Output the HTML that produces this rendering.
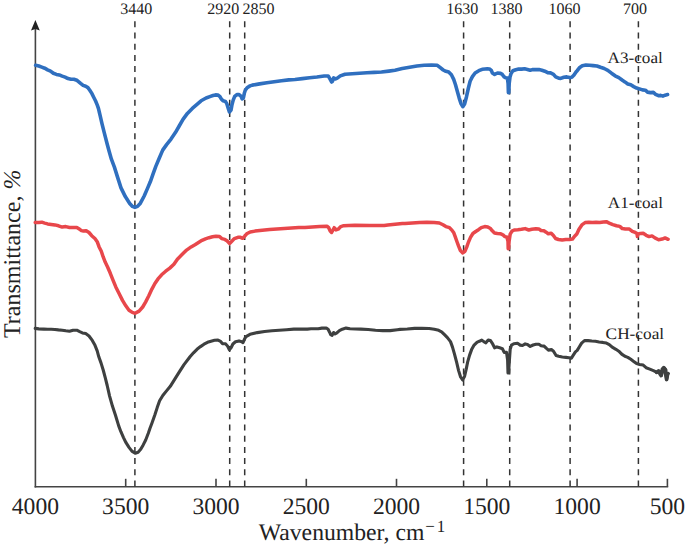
<!DOCTYPE html>
<html><head><meta charset="utf-8"><style>
html,body{margin:0;padding:0;background:#fff;width:685px;height:547px;overflow:hidden}
svg{display:block;font-family:"Liberation Serif",serif;text-rendering:geometricPrecision}
</style></head><body>
<svg width="685" height="547" viewBox="0 0 685 547">
<line x1="35.4" y1="28" x2="35.4" y2="487.55" stroke="#444" stroke-width="1.6"/>
<line x1="34.6" y1="486.8" x2="668.1999999999999" y2="486.8" stroke="#444" stroke-width="1.6"/>
<path d="M35.4 20 L39.8 30.5 L35.4 29 L31.0 30.5 Z" fill="#222"/>
<line x1="125.7" y1="486.8" x2="125.7" y2="478.8" stroke="#444" stroke-width="1.6"/>
<line x1="216.0" y1="486.8" x2="216.0" y2="478.8" stroke="#444" stroke-width="1.6"/>
<line x1="306.3" y1="486.8" x2="306.3" y2="478.8" stroke="#444" stroke-width="1.6"/>
<line x1="396.5" y1="486.8" x2="396.5" y2="478.8" stroke="#444" stroke-width="1.6"/>
<line x1="486.8" y1="486.8" x2="486.8" y2="478.8" stroke="#444" stroke-width="1.6"/>
<line x1="577.1" y1="486.8" x2="577.1" y2="478.8" stroke="#444" stroke-width="1.6"/>
<line x1="667.4" y1="486.8" x2="667.4" y2="478.8" stroke="#444" stroke-width="1.6"/>
<line x1="134.9" y1="21.3" x2="134.9" y2="486.8" stroke="#333" stroke-width="1.5" stroke-dasharray="6 5.2"/>
<line x1="229.7" y1="21.3" x2="229.7" y2="486.8" stroke="#333" stroke-width="1.5" stroke-dasharray="6 5.2"/>
<line x1="244.7" y1="21.3" x2="244.7" y2="486.8" stroke="#333" stroke-width="1.5" stroke-dasharray="6 5.2"/>
<line x1="463.6" y1="21.3" x2="463.6" y2="486.8" stroke="#333" stroke-width="1.5" stroke-dasharray="6 5.2"/>
<line x1="509.7" y1="21.3" x2="509.7" y2="486.8" stroke="#333" stroke-width="1.5" stroke-dasharray="6 5.2"/>
<line x1="570.1" y1="21.3" x2="570.1" y2="486.8" stroke="#333" stroke-width="1.5" stroke-dasharray="6 5.2"/>
<line x1="638.4" y1="21.3" x2="638.4" y2="486.8" stroke="#333" stroke-width="1.5" stroke-dasharray="6 5.2"/>
<polyline points="35.6,65.3 38.8,66.0 41.8,67.1 44.7,68.2 47.6,69.8 50.5,71.1 53.4,73.3 56.4,74.4 59.3,74.9 62.2,76.1 65.1,77.1 68.0,78.6 71.0,79.3 73.9,79.3 76.8,80.3 78.5,81.6 80.6,83.4 83.1,85.4 85.7,86.3 87.9,87.6 89.8,90.2 91.8,93.4 93.7,97.2 95.6,101.0 97.2,104.9 98.5,108.7 99.4,112.5 100.2,115.9 102.1,124.1 104.3,132.9 107.1,143.8 109.2,151.5 111.4,159.2 114.4,167.1 117.7,177.6 121.0,187.9 125.3,196.6 129.7,203.4 132.5,206.4 134.9,207.4 137.5,206.4 140.4,203.2 144.2,196.0 147.5,188.4 150.3,181.8 153.0,174.1 155.8,166.4 159.0,158.8 162.7,150.1 166.6,144.6 171.0,139.1 175.4,132.6 179.2,126.0 183.0,119.4 187.4,113.4 192.3,108.4 197.3,104.1 201.1,100.8 206.1,98.0 210.5,96.4 213.0,95.5 215.5,94.9 217.9,95.1 219.8,96.4 221.4,99.2 223.2,100.8 225.4,101.4 226.9,103.9 228.2,108.2 229.4,112.0 231.0,110.1 231.9,105.1 233.2,100.1 234.7,96.4 236.9,94.6 239.1,94.6 240.9,96.1 242.2,98.9 243.4,98.0 244.3,93.3 245.3,90.2 247.1,87.7 250.0,85.9 252.3,85.1 259.6,83.9 266.9,82.8 274.2,81.7 281.5,80.7 288.8,79.9 295.0,79.5 302.3,78.6 309.6,77.7 316.9,77.0 324.2,76.0 328.2,76.0 329.7,78.4 331.6,82.0 332.4,81.5 333.7,77.9 335.1,79.0 337.3,78.1 340.3,75.9 345.0,74.2 352.3,73.7 359.6,73.3 366.9,72.8 374.2,72.4 381.5,72.0 388.8,71.1 395.0,70.2 402.3,68.6 409.6,67.3 416.9,66.0 424.2,65.3 431.5,65.1 437.3,65.3 440.3,67.7 443.2,70.0 445.0,70.9 448.7,72.0 451.4,74.8 453.7,79.4 455.5,84.8 457.3,91.2 459.2,98.1 461.0,103.6 462.8,106.7 464.6,104.0 466.5,96.7 468.3,88.5 470.1,81.2 472.4,76.6 475.1,73.0 478.8,70.7 482.2,69.3 485.1,69.0 487.3,68.8 489.5,69.0 491.3,70.4 492.4,73.0 494.6,74.4 497.5,73.0 500.5,73.4 502.3,74.4 503.8,76.6 505.6,77.7 507.4,78.1 508.1,83.6 508.4,92.6 508.8,92.6 509.2,83.6 510.0,77.0 511.1,73.4 512.9,70.8 515.8,69.7 518.7,69.0 521.7,69.1 524.6,68.8 527.5,69.5 530.2,70.3 532.4,69.6 535.3,69.5 539.0,69.6 541.9,70.2 544.8,71.2 547.7,72.7 550.6,72.9 553.5,74.3 555.7,76.9 558.7,78.2 560.8,78.4 563.8,77.3 566.7,76.9 569.6,77.6 571.8,77.3 574.0,75.1 576.2,71.8 577.2,70.7 579.4,67.8 582.3,65.8 585.9,65.1 589.6,65.2 593.2,65.6 596.9,66.0 600.5,67.3 604.2,68.5 607.8,70.3 611.5,73.2 615.1,75.8 618.8,77.6 622.4,80.3 624.9,81.9 627.8,84.0 630.8,84.8 633.7,86.6 636.6,88.1 639.5,88.9 642.4,89.9 645.4,90.2 647.5,92.1 650.5,92.6 653.4,92.4 655.6,94.3 658.5,95.7 660.7,95.4 662.9,96.1 665.1,95.2 667.6,94.6" fill="none" stroke="#2f6fbf" stroke-width="3.6" stroke-linejoin="round" stroke-linecap="round"/>
<polyline points="35.2,222.4 38.8,222.4 41.8,222.2 44.7,223.1 47.6,223.9 51.2,224.4 54.9,224.9 58.5,225.8 62.2,227.1 65.8,226.6 69.5,227.5 73.1,227.6 76.8,227.5 79.7,229.3 81.5,230.6 83.5,231.1 86.2,230.7 89.0,232.5 91.7,235.7 94.9,238.5 97.2,241.7 99.0,246.7 101.3,251.3 103.1,256.7 105.2,262.1 107.7,267.2 110.3,273.3 113.2,280.6 115.9,287.2 119.2,293.8 122.5,300.4 125.8,305.8 129.0,310.2 132.3,312.4 135.1,313.3 139.1,311.1 142.7,307.0 145.7,301.9 148.8,295.8 151.9,289.1 154.9,283.5 158.0,278.9 161.6,274.8 165.7,271.2 169.8,268.1 173.9,264.3 177.4,259.2 182.0,254.6 186.6,250.1 191.1,246.9 195.0,244.7 198.5,242.5 202.0,240.3 205.5,238.8 209.0,237.7 212.5,236.8 216.0,236.2 219.5,236.4 221.7,238.6 224.8,239.4 227.0,240.8 229.6,243.4 231.8,241.2 234.4,238.6 237.9,237.3 240.5,237.3 242.7,238.3 244.5,236.4 246.7,233.8 250.2,232.0 255.0,231.1 262.3,230.3 269.6,229.6 276.9,229.0 284.2,228.5 291.5,228.0 298.8,227.6 305.0,227.5 312.3,227.0 319.6,226.6 326.9,226.2 328.7,227.7 330.2,231.0 331.6,232.4 333.1,229.9 334.2,227.7 336.0,229.9 338.2,229.2 340.8,226.6 343.7,225.7 348.8,225.5 355.0,225.3 369.6,225.5 384.2,225.5 387.8,225.0 395.1,224.2 402.4,223.5 405.0,223.6 412.3,223.0 419.6,222.4 426.9,222.2 434.2,222.4 439.3,223.0 443.0,224.8 445.9,226.6 449.5,227.7 452.1,230.4 453.8,232.8 455.2,236.7 456.9,241.5 458.7,246.4 460.4,250.6 462.8,253.0 464.9,251.3 466.7,247.1 468.4,242.2 470.5,237.4 472.9,233.5 475.7,231.5 478.5,229.7 481.3,227.6 484.7,226.6 487.9,227.1 490.1,228.2 492.3,230.8 494.5,233.0 497.4,233.5 500.3,233.7 502.9,234.8 504.7,236.6 506.9,237.0 508.0,241.4 508.2,248.7 508.6,248.7 509.1,241.4 510.2,234.1 512.0,231.1 514.2,230.0 517.8,229.7 521.5,229.3 525.1,228.6 528.8,230.0 531.7,229.3 535.9,228.7 538.8,228.9 541.0,230.5 543.9,230.7 546.1,232.2 548.3,233.8 551.2,233.2 553.4,235.4 555.6,238.5 558.5,239.5 562.2,240.0 565.8,239.5 569.5,239.5 572.4,239.1 574.6,236.2 576.8,234.0 579.0,229.2 581.2,226.0 582.2,224.6 585.1,222.6 588.8,222.3 592.4,222.6 596.1,222.3 599.7,222.6 603.4,222.0 606.3,221.7 609.2,223.1 612.8,224.6 616.5,225.7 619.8,226.4 622.3,228.6 625.3,229.0 629.4,229.1 632.3,231.3 635.2,232.4 637.0,233.5 637.4,236.4 638.1,233.9 640.3,233.5 643.2,233.3 646.2,235.3 649.1,236.6 652.0,235.9 654.9,237.9 658.6,239.7 662.2,239.1 665.1,237.9 668.1,239.3" fill="none" stroke="#e8474b" stroke-width="3.5" stroke-linejoin="round" stroke-linecap="round"/>
<polyline points="35.2,328.4 38.8,328.9 43.9,329.1 47.6,329.3 51.2,329.3 54.9,329.5 58.5,329.9 62.2,330.2 65.8,330.8 69.5,331.3 73.1,330.2 76.8,330.2 79.7,331.7 82.4,332.9 85.7,333.6 89.0,336.0 92.3,340.4 95.0,345.3 97.2,350.8 98.8,356.8 101.0,362.9 103.2,370.0 105.3,377.9 107.2,385.5 109.6,396.1 112.5,406.3 115.4,415.0 118.7,425.9 120.9,431.7 123.5,437.6 126.0,442.7 129.0,447.4 131.9,451.1 135.2,453.3 138.1,452.2 140.7,449.3 143.2,444.9 145.7,440.0 148.3,433.3 150.0,428.3 151.9,423.2 154.9,414.8 157.2,407.6 159.6,400.8 162.8,395.5 166.5,390.9 170.3,386.3 175.1,378.7 179.5,371.6 184.0,364.6 188.5,358.8 190.0,356.8 193.5,352.8 197.0,349.3 200.5,346.6 204.0,344.2 207.5,342.3 211.0,341.2 214.5,340.3 218.0,340.1 220.6,341.4 222.4,343.6 225.5,343.8 227.7,346.2 229.4,349.7 231.2,347.5 232.9,344.0 235.5,341.8 239.0,340.9 241.7,341.8 243.0,342.7 244.3,339.6 246.0,336.6 250.0,334.3 257.3,332.6 264.6,331.5 271.9,330.8 279.2,330.3 286.5,329.7 293.8,329.1 300.0,329.0 307.3,329.1 311.0,328.7 318.2,328.7 321.9,328.1 326.3,328.0 328.1,329.2 329.6,332.2 330.7,334.7 332.1,335.4 333.6,332.5 335.0,334.0 336.9,332.9 339.4,330.7 342.3,329.2 346.0,328.1 350.0,328.8 360.9,329.1 368.2,329.5 375.5,330.2 382.8,330.6 390.1,330.6 397.4,329.7 400.0,329.4 407.3,329.0 414.6,328.4 421.9,328.4 429.2,328.5 434.3,329.2 438.7,330.3 441.6,331.8 444.5,334.7 447.4,337.6 450.5,341.6 452.5,347.1 454.5,354.1 456.6,362.2 458.6,370.6 460.6,377.0 462.6,380.0 464.6,376.2 466.1,369.6 467.6,362.2 469.6,355.1 471.6,349.6 474.1,345.1 477.2,342.1 480.0,341.0 481.8,340.1 484.1,341.9 485.9,342.8 488.2,340.1 490.5,340.5 492.3,343.3 494.6,347.8 496.9,346.9 499.7,347.8 502.4,348.7 504.2,352.4 506.5,352.4 507.6,360.0 508.0,373.0 508.6,373.0 509.3,362.0 510.2,349.2 511.5,345.1 513.8,343.7 517.5,343.3 520.2,345.1 522.5,345.5 525.2,343.9 527.5,344.4 530.2,346.4 533.1,345.0 536.0,344.2 538.9,344.2 541.1,345.7 544.1,346.1 546.2,348.2 548.4,350.1 551.4,349.6 553.5,351.2 556.1,355.5 558.7,356.3 562.3,357.0 566.0,357.4 568.9,357.7 571.4,358.1 573.3,355.2 575.4,351.9 577.2,350.4 579.4,346.8 581.6,343.1 584.5,340.6 588.1,340.6 591.8,341.0 595.4,341.3 599.1,342.0 602.7,342.4 606.4,343.1 609.3,344.6 612.2,347.2 615.9,349.3 618.8,351.2 621.7,354.1 624.9,356.3 627.8,357.4 630.8,359.3 633.7,361.4 636.6,363.6 639.5,364.4 643.2,365.1 646.1,367.7 649.8,369.1 653.4,370.6 657.1,372.4 659.3,371.3 661.5,374.6 662.9,370.6 664.4,368.4 665.9,369.9 666.6,379.4 667.7,374.2 668.4,373.5" fill="none" stroke="#3e4040" stroke-width="3.1" stroke-linejoin="round" stroke-linecap="round"/>
<polyline points="656.5,372.4 658.5,370.8 659.8,373.6 661.2,375.6 662.3,369.2 663.8,367.6 665.0,369.2 666.0,376.5 666.6,379.6 667.6,374.5" fill="none" stroke="#3e4040" stroke-width="3.6" stroke-linejoin="round" stroke-linecap="round"/>
<text x="35.4" y="513.8" text-anchor="middle" font-size="23.6" fill="#222">4000</text>
<text x="125.7" y="513.8" text-anchor="middle" font-size="23.6" fill="#222">3500</text>
<text x="216.0" y="513.8" text-anchor="middle" font-size="23.6" fill="#222">3000</text>
<text x="306.3" y="513.8" text-anchor="middle" font-size="23.6" fill="#222">2500</text>
<text x="396.5" y="513.8" text-anchor="middle" font-size="23.6" fill="#222">2000</text>
<text x="486.8" y="513.8" text-anchor="middle" font-size="23.6" fill="#222">1500</text>
<text x="577.1" y="513.8" text-anchor="middle" font-size="23.6" fill="#222">1000</text>
<text x="667.4" y="513.8" text-anchor="middle" font-size="23.6" fill="#222">500</text>
<text x="136.3" y="14.2" text-anchor="middle" font-size="16" fill="#222">3440</text>
<text x="223.3" y="14.0" text-anchor="middle" font-size="16" fill="#222">2920</text>
<text x="258.6" y="14.0" text-anchor="middle" font-size="16" fill="#222">2850</text>
<text x="462.2" y="14.0" text-anchor="middle" font-size="16" fill="#222">1630</text>
<text x="506.5" y="14.0" text-anchor="middle" font-size="16" fill="#222">1380</text>
<text x="564.4" y="14.0" text-anchor="middle" font-size="16" fill="#222">1060</text>
<text x="635.1" y="14.0" text-anchor="middle" font-size="16" fill="#222">700</text>
<text transform="translate(607.6,63.2) scale(1.07,1)" font-size="16" fill="#222">A3-coal</text>
<text transform="translate(607.8,208) scale(1.07,1)" font-size="16" fill="#222">A1-coal</text>
<text transform="translate(605.6,339) scale(1.08,1)" font-size="16" fill="#222">CH-coal</text>
<text x="258.8" y="540" font-size="23.7" fill="#222">Wavenumber, cm<tspan font-size="17" dy="-8.5" dx="0.8">&#8722;</tspan><tspan font-size="17" dx="2">1</tspan></text>
<text transform="translate(20,338) rotate(-90)" x="0" y="0" font-size="24" fill="#222">Transmittance, <tspan font-style="italic">%</tspan></text>
</svg>
</body></html>
